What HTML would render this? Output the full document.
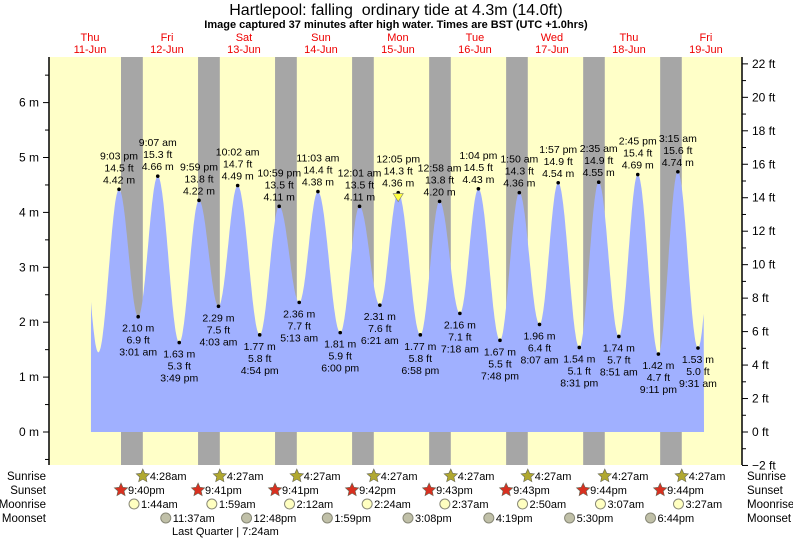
<!DOCTYPE html>
<html><head><meta charset="utf-8"><style>
body{margin:0;background:#fff;width:793px;height:539px;overflow:hidden}
svg{font-family:"Liberation Sans",sans-serif}
</style></head><body>
<svg id="s" width="793" height="539" xmlns="http://www.w3.org/2000/svg"></svg>
<script>
const s=document.getElementById('s');let h='';
const X0=51.5,PX=3.208,Y0=432,PM=54.9;
const X=t=>X0+t*PX, Y=m=>Y0-m*PM;
const L=49,R=742,T=57,B=465;
h+=`<text x="396" y="15" font-size="16" text-anchor="middle">Hartlepool: falling&#160; ordinary tide at 4.3m (14.0ft)</text>`;
h+=`<text x="396" y="28" font-size="11" font-weight="bold" text-anchor="middle">Image captured 37 minutes after high water. Times are BST (UTC +1.0hrs)</text>`;
h+=`<rect x="${L}" y="${T}" width="${R-L}" height="${B-T}" fill="#ffffc8"/>`;
const ss=[21+40/60,21+41/60,21+41/60,21+42/60,21+43/60,21+43/60,21+44/60,21+44/60];
const sr=4+28/60;
for(let d=0;d<8;d++){const a=X(d*24+ss[d]),b=X((d+1)*24+sr);h+=`<rect x="${a}" y="${T}" width="${b-a}" height="${B-T}" fill="#a6a6a6"/>`;}
const days=[["Thu","11-Jun"],["Fri","12-Jun"],["Sat","13-Jun"],["Sun","14-Jun"],["Mon","15-Jun"],["Tue","16-Jun"],["Wed","17-Jun"],["Thu","18-Jun"],["Fri","19-Jun"]];
days.forEach((d,i)=>{const x=X(i*24+12);h+=`<text x="${x}" y="41" font-size="11" fill="#e00" text-anchor="middle">${d[0]}</text><text x="${x}" y="53" font-size="11" fill="#e00" text-anchor="middle">${d[1]}</text>`;});
const E=[[8.5,4.4],[14.6,1.45],
[21.05,4.42,"9:03 pm"],[27.02,2.10,"3:01 am"],[33.12,4.66,"9:07 am"],[39.82,1.63,"3:49 pm"],[45.98,4.22,"9:59 pm"],[52.05,2.29,"4:03 am"],[58.03,4.49,"10:02 am"],[64.9,1.77,"4:54 pm"],[70.98,4.11,"10:59 pm"],[77.22,2.36,"5:13 am"],[83.05,4.38,"11:03 am"],[90,1.81,"6:00 pm"],[96.02,4.11,"12:01 am"],[102.35,2.31,"6:21 am"],[108.08,4.36,"12:05 pm"],[114.97,1.77,"6:58 pm"],[120.97,4.20,"12:58 am"],[127.3,2.16,"7:18 am"],[133.07,4.43,"1:04 pm"],[139.8,1.67,"7:48 pm"],[145.83,4.36,"1:50 am"],[152.12,1.96,"8:07 am"],[157.95,4.54,"1:57 pm"],[164.52,1.54,"8:31 pm"],[170.58,4.55,"2:35 am"],[176.85,1.74,"8:51 am"],[182.75,4.69,"2:45 pm"],[189.18,1.42,"9:11 pm"],[195.25,4.74,"3:15 am"],[201.52,1.53,"9:31 am"],[207.6,4.7]];
function val(t){for(let i=0;i<E.length-1;i++){const[a,va]=E[i],[b,vb]=E[i+1];if(t>=a&&t<=b){const f=(1-Math.cos(Math.PI*(t-a)/(b-a)))/2;return va+(vb-va)*f;}}return 0;}
let p=`M${X(12.3)},${Y(0)}`;for(let t=12.3;t<=203.4;t+=0.2)p+=` L${X(t).toFixed(1)},${Y(val(t)).toFixed(1)}`;p+=` L${X(203.4)},${Y(0)}Z`;
h+=`<path d="${p}" fill="#a0b0ff"/>`;
E.forEach((e,i)=>{if(!e[2])return;const x=X(e[0]),y=Y(e[1]),ft=(e[1]*3.2808).toFixed(1);h+=`<circle cx="${x}" cy="${y}" r="1.8" fill="#000"/>`;
if(e[1]>3){h+=`<text font-size="10.5" text-anchor="middle"><tspan x="${x}" y="${y-30}">${e[2]}</tspan><tspan x="${x}" y="${y-18}">${ft} ft</tspan><tspan x="${x}" y="${y-6}">${e[1].toFixed(2)} m</tspan></text>`;}
else{h+=`<text font-size="10.5" text-anchor="middle"><tspan x="${x}" y="${y+15}">${e[1].toFixed(2)} m</tspan><tspan x="${x}" y="${y+27}">${ft} ft</tspan><tspan x="${x}" y="${y+39}">${e[2]}</tspan></text>`;}});
{const x=X(108.08),y=Y(4.36);h+=`<path d="M${x-5},${y+1} L${x+5},${y+1} L${x},${y+9}Z" fill="#ffff40" stroke="#886" stroke-width="0.7"/>`;}
h+=`<line x1="${L}" y1="${T}" x2="${L}" y2="${B}" stroke="#000" stroke-width="1.5"/><line x1="${R}" y1="${T}" x2="${R}" y2="${B}" stroke="#000" stroke-width="1.5"/>`;
for(let m=-0.5;m<=6.5;m+=0.5){const y=Y(m);if(y<T||y>B+1)continue;const maj=Number.isInteger(m);h+=`<line x1="${L-(maj?6:4)}" y1="${y}" x2="${L}" y2="${y}" stroke="#000"/>`;if(maj)h+=`<text x="${L-10}" y="${y+4}" font-size="12" text-anchor="end">${m} m</text>`;}
for(let f=-2;f<=23;f++){const y=Y0-f/3.2808*PM;if(y<T||y>B+1)continue;const maj=f%2==0;h+=`<line x1="${R}" y1="${y}" x2="${R+(maj?6:4)}" y2="${y}" stroke="#000"/>`;if(maj)h+=`<text x="${R+10}" y="${y+4}" font-size="12">${f==-2?'−2':f} ft</text>`;}
const rows=[["Sunrise",476],["Sunset",490],["Moonrise",504],["Moonset",518]];
rows.forEach(r=>{h+=`<text x="46" y="${r[1]+4}" font-size="11.5" text-anchor="end">${r[0]}</text><text x="747" y="${r[1]+4}" font-size="11.5">${r[0]}</text>`;});
function star(x,y,c){let q='';for(let k=0;k<10;k++){const a=-Math.PI/2+k*Math.PI/5,rr=k%2?3.3:7;q+=(k?'L':'M')+(x+rr*Math.cos(a)).toFixed(1)+','+(y+rr*Math.sin(a)).toFixed(1);}return `<path d="${q}Z" fill="${c}" stroke="#665" stroke-width="0.6"/>`;}
const srT=["4:28am","4:27am","4:27am","4:27am","4:27am","4:27am","4:27am","4:27am"];
for(let d=0;d<8;d++){let x=X((d+1)*24+sr);h+=star(x,476,"#b0a830")+`<text x="${x+7}" y="480" font-size="11">${srT[d]}</text>`;
x=X(d*24+ss[d]);const st=["9:40pm","9:41pm","9:41pm","9:42pm","9:43pm","9:43pm","9:44pm","9:44pm"][d];h+=star(x,490,"#d83020")+`<text x="${x+7}" y="494" font-size="11">${st}</text>`;}
const mr=[[25.73,"1:44am"],[49.98,"1:59am"],[74.2,"2:12am"],[98.4,"2:24am"],[122.62,"2:37am"],[146.83,"2:50am"],[171.12,"3:07am"],[195.45,"3:27am"]];
mr.forEach(m=>{const x=X(m[0]);h+=`<circle cx="${x}" cy="504" r="5" fill="#ffffc0" stroke="#887"/><text x="${x+7}" y="508" font-size="11">${m[1]}</text>`;});
const ms=[[35.62,"11:37am"],[60.8,"12:48pm"],[85.98,"1:59pm"],[111.13,"3:08pm"],[136.32,"4:19pm"],[161.5,"5:30pm"],[186.73,"6:44pm"]];
ms.forEach(m=>{const x=X(m[0]);h+=`<circle cx="${x}" cy="518" r="5" fill="#c0c0a8" stroke="#887"/><text x="${x+7}" y="522" font-size="11">${m[1]}</text>`;});
h+=`<text x="172" y="535" font-size="11">Last Quarter | 7:24am</text>`;
s.innerHTML=h;
</script>
</body></html>
